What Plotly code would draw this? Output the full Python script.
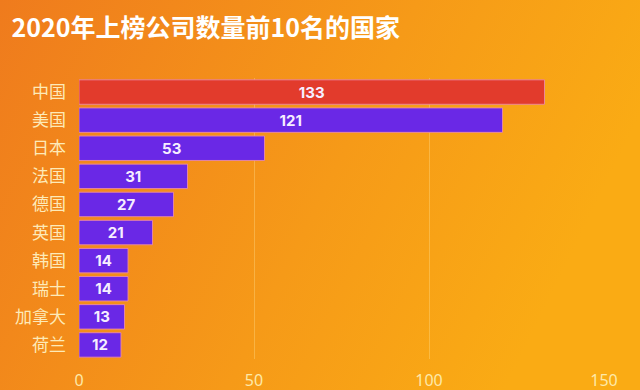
import base64
import plotly.graph_objects as go

countries = ["中国", "美国", "日本", "法国", "德国", "英国", "韩国", "瑞士", "加拿大", "荷兰"]
counts = [133, 121, 53, 31, 27, 21, 14, 14, 13, 12]
bar_colors = ["#e23b2c"] + ["#6a28e6"] * 9
x_ticks = [0, 50, 100, 150]

W, H = 640, 390
ml, mr, mt, mb = 79, 36, 78, 31
pw, ph = W - ml - mr, H - mt - mb

svg = (
    '<svg xmlns="http://www.w3.org/2000/svg" width="640" height="390">'
    '<defs><linearGradient id="g" x1="0" y1="0" x2="1" y2="0.3">'
    '<stop offset="0" stop-color="#ef7b1d"/>'
    '<stop offset="0.6" stop-color="#f69a18"/>'
    '<stop offset="1" stop-color="#faab14"/>'
    '</linearGradient></defs>'
    '<rect width="640" height="390" fill="url(#g)"/></svg>'
)
src = "data:image/svg+xml;base64," + base64.b64encode(svg.encode()).decode()

fig = go.Figure(
    go.Bar(
        x=counts,
        y=countries,
        orientation="h",
        marker=dict(color=bar_colors, line=dict(color="rgba(235,140,170,0.85)", width=1)),
        text=[str(v) for v in counts],
        textposition="inside",
        insidetextanchor="middle",
        textangle=0,
        constraintext="none",
        textfont=dict(family="Inter, Lato, sans-serif", size=15, color="#f6eeff", weight="bold"),
        width=0.87,
        hoverinfo="skip",
    )
)

fig.update_layout(
    width=W,
    height=H,
    margin=dict(l=ml, r=mr, t=mt, b=mb, autoexpand=False),
    paper_bgcolor="#f39020",
    plot_bgcolor="rgba(0,0,0,0)",
    showlegend=False,
    title=dict(
        text="<b>2020年上榜公司数量前10名的国家</b>",
        x=0.018,
        xanchor="left",
        y=0.928,
        yanchor="middle",
        font=dict(family="Noto Sans CJK SC", size=25, color="#ffffff"),
    ),
    images=[
        dict(
            source=src,
            xref="paper",
            yref="paper",
            x=-ml / pw,
            y=1 + mt / ph,
            sizex=W / pw,
            sizey=H / ph,
            xanchor="left",
            yanchor="top",
            sizing="stretch",
            layer="below",
        )
    ],
)

fig.update_xaxes(
    range=[0, 150],
    tickvals=x_ticks,
    ticktext=[str(t) for t in x_ticks],
    showgrid=True,
    gridcolor="rgba(255,225,150,0.35)",
    gridwidth=1,
    zeroline=False,
    showline=False,
    ticks="",
    automargin=False,
    ticklabelstandoff=10,
    tickfont=dict(family="Noto Sans, sans-serif", size=16, color="#fde9a8"),
)

fig.update_yaxes(
    autorange="reversed",
    showgrid=False,
    zeroline=False,
    showline=False,
    ticks="",
    automargin=False,
    ticklabelstandoff=12,
    tickfont=dict(family="Noto Sans CJK SC", size=17, color="#fdeab8"),
)

fig.write_html(
    "out.html",
    config={"displayModeBar": False},
    post_script="document.body.style.margin='0';document.body.style.overflow='hidden';",
)
